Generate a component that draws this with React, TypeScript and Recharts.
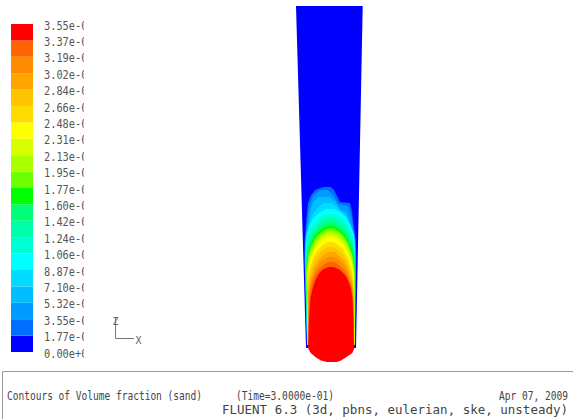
import React from "react";
import { ComposedChart, Area, XAxis, YAxis, BarChart, Bar } from "recharts";

// colour bands of the legend, bottom (0.00) to top (3.55e-01)
const bandColors = [
  "#0000ff", "#006eff", "#009bff", "#00beff", "#00dcff",
  "#00ffff", "#00ffd2", "#00ffaa", "#00ff78", "#00ff00",
  "#6eff00", "#aaff00", "#d7ff00", "#ffff00", "#ffdc00",
  "#ffc300", "#ffa500", "#ff8c00", "#ff6400", "#ff0000",
];

const levelValues = [
  0, 0.01775, 0.0355, 0.05325, 0.071, 0.08875, 0.1065, 0.12425, 0.142, 0.15975, 0.1775,
  0.19525, 0.213, 0.23075, 0.2485, 0.26625, 0.284, 0.30175, 0.3195, 0.33725, 0.355,
];

const levelLabels = [
  "0.00e+00", "1.77e-02", "3.55e-02", "5.32e-02", "7.10e-02", "8.87e-02", "1.06e-01",
  "1.24e-01", "1.42e-01", "1.60e-01", "1.77e-01", "1.95e-01", "2.13e-01", "2.31e-01",
  "2.48e-01", "2.66e-01", "2.84e-01", "3.02e-01", "3.19e-01", "3.37e-01", "3.55e-01",
];

// rows are [height above bed mm, left edge mm, right edge mm]
const column = [[356, -34, 32.7], [14, -24, 26]];

const contour01 = [[175, -7, 1], [172, -15, 4], [166, -19.5, 7], [160, -21.5, 10], [159, -22, 20], [150, -23, 22], [122, -25.3, 25.5], [100, -25.4, 26], [17, -23, 25]];
const contour02 = [[172, -10, -2], [166, -17, 4], [158, -20, 8], [156, -20.5, 18], [147, -22, 21], [122, -25, 25.3], [100, -25.2, 25.8], [17, -22.9, 24.9]];
const contour03 = [[165, -12, 0], [160, -17, 6], [152, -19.5, 10], [150, -20, 16], [140, -21.5, 20], [120, -24.5, 25], [100, -25, 25.6], [17, -22.8, 24.8]];
const contour04 = [[159, -6, 2], [155, -12, 7], [150, -16, 12], [145, -18.5, 17], [135, -21.5, 21], [120, -24, 24.5], [100, -24.8, 25.4], [17, -22.7, 24.7]];
const contour05 = [[153, -4, 4], [150, -10, 10], [145, -15.5, 15.5], [138, -20, 20], [128, -23.5, 24], [113, -24.6, 25.2], [17, -22.7, 24.7]];
const contour06 = [[148, -3.5, 4], [145, -9.5, 10], [140, -15, 15], [133, -19.5, 19.5], [123, -23, 23.5], [108, -24.4, 25], [17, -22.6, 24.6]];
const contour07 = [[144, -3, 4], [141, -9, 9.5], [136, -14.5, 15], [129, -19, 19], [119, -22.5, 23], [104, -24.2, 24.9], [17, -22.6, 24.6]];
const contour08 = [[140, -3, 3.5], [137, -8.5, 9], [132, -14, 14.5], [125, -18.5, 19], [115, -22, 22.5], [100, -24, 24.8], [17, -22.5, 24.6]];
const contour09 = [[136, -3, 3.5], [133, -8.5, 9], [128, -14, 14.5], [121, -18, 18.5], [111, -21.5, 22.5], [96, -23.8, 24.7], [17, -22.5, 24.5]];
const contour10 = [[133.5, -2.5, 3.5], [130.5, -8, 9], [125.5, -13.5, 14], [118.5, -17.5, 18.5], [108.5, -21.5, 22], [93.5, -23.6, 24.5], [17, -22.4, 24.5]];
const contour11 = [[131, -2.5, 3.5], [128, -8, 9], [123, -13.5, 14], [116, -17.5, 18], [106, -21, 22], [91, -23.4, 24.4], [17, -22.4, 24.5]];
const contour12 = [[128, -2.5, 3.5], [125, -8, 8.5], [120, -13, 14], [113, -17, 18], [103, -21, 21.5], [88, -23.2, 24.2], [17, -22.3, 24.4]];
const contour13 = [[125, -2.5, 3.5], [122, -7.5, 8.5], [117, -13, 13.5], [110, -17, 17.5], [100, -20.5, 21.5], [85, -23, 24], [17, -22.3, 24.4]];
const contour14 = [[120, -2.5, 3.5], [117, -7.5, 8.5], [112, -12.5, 13.5], [105, -16.5, 17.5], [95, -20, 21], [80, -22.8, 23.8], [17, -22.2, 24.3]];
const contour15 = [[115, -2.5, 3.5], [112, -7.5, 8.5], [107, -12.5, 13.5], [100, -16.5, 17.5], [90, -20, 21], [75, -22.5, 23.5], [17, -22.1, 24.3]];
const contour16 = [[110, -2, 4], [107, -7, 8.5], [102, -12, 13.5], [95, -16, 17.5], [85, -19.5, 21], [70, -22, 23.5], [17, -22, 24.2]];
const contour17 = [[105, -2, 4], [102, -7, 9], [97, -12, 14], [90, -16, 17.5], [80, -19.5, 21], [65, -21.5, 23.5], [17, -21.9, 24.1]];
const contour18 = [[100, -2, 4], [97, -7, 9], [92, -12, 14], [85, -16, 18], [75, -19, 21.5], [60, -21, 23.5], [17, -21.8, 24]];
const contour19 = [[95, -2, 4], [92, -8, 10], [87, -12, 15], [82, -14.5, 18], [75, -17, 20.5], [64, -19.5, 22.5], [42, -21, 23.5], [17, -21.7, 23.8], [14, -22, 24.5], [9, -19.3, 22.3], [4, -13.3, 15], [1.5, -9, 11], [0, -3.3, 6.7]];

const contours = [
  column, contour01, contour02, contour03, contour04, contour05, contour06, contour07, contour08, contour09,
  contour10, contour11, contour12, contour13, contour14, contour15, contour16, contour17, contour18, contour19,
];

const toRows = (rows: number[][]) => rows.map(([z, l, r]) => ({ z, span: [l, r] }));

const legendRow = [
  Object.fromEntries(bandColors.map((_, i) => [`b${i}`, levelValues[i + 1] - levelValues[i]])),
];

const FONT = "'DejaVu Sans Mono', monospace";

function LegendTick({ x, y, payload }: any) {
  const i = levelValues.indexOf(payload.value);
  return (
    <text x={x} y={y + 5.5} fontSize={12} fill="#555" fontFamily={FONT} textLength={49.6} lengthAdjust="spacingAndGlyphs">
      {levelLabels[i]}
    </text>
  );
}

export default function App() {
  return (
    <div style={{ position: "absolute", left: 0, top: 0, width: 573, height: 419, background: "#fff", fontFamily: FONT }}>
      <div style={{ position: "absolute", left: 0, top: 0 }}>
        <ComposedChart layout="vertical" width={573} height={366} margin={{ top: 6, right: 163, bottom: 4, left: 250 }}>
          <XAxis type="number" domain={[-80, 80]} allowDataOverflow hide />
          <YAxis type="number" dataKey="z" domain={[0, 356]} allowDataOverflow reversed hide />
          {contours.map((rows, i) => (
            <Area
              key={i}
              data={toRows(rows)}
              dataKey="span"
              type="linear"
              stroke="none"
              fill={bandColors[i]}
              fillOpacity={1}
              dot={false}
              activeDot={false}
              isAnimationActive={false}
            />
          ))}
        </ComposedChart>
      </div>

      <div style={{ position: "absolute", left: 0, top: 0, width: 84, height: 366, overflow: "hidden" }}>
        <BarChart width={100} height={360} data={legendRow} margin={{ top: 24, right: 0, bottom: 8, left: 11 }} barCategoryGap={0}>
          <XAxis hide />
          <YAxis
            orientation="right"
            type="number"
            domain={[0, 0.355]}
            allowDataOverflow
            ticks={levelValues}
            interval={0}
            width={67}
            axisLine={false}
            tickLine={false}
            tickSize={0}
            tickMargin={11}
            tick={<LegendTick />}
          />
          {bandColors.map((c, i) => (
            <Bar key={i} dataKey={`b${i}`} stackId="legend" fill={c} isAnimationActive={false} />
          ))}
        </BarChart>
      </div>

      <svg width={573} height={419} style={{ position: "absolute", left: 0, top: 0, pointerEvents: "none" }}>
        <line x1={115.5} y1={317} x2={115.5} y2={338.5} stroke="#777" />
        <line x1={115.5} y1={338.5} x2={134} y2={338.5} stroke="#777" />
        <text x={115.5} y={325} fontSize={10} textAnchor="middle" fill="#666" fontFamily={FONT}>Z</text>
        <text x={138.5} y={343.5} fontSize={10} textAnchor="middle" fill="#666" fontFamily={FONT}>X</text>

        <line x1={2.5} y1={371.5} x2={573} y2={371.5} stroke="#999" />
        <line x1={2.5} y1={371.5} x2={2.5} y2={419} stroke="#999" />
        <text x={7} y={400} fontSize={12} fill="#444" fontFamily={FONT} textLength={195} lengthAdjust="spacingAndGlyphs">
          Contours of Volume fraction (sand)
        </text>
        <text x={236} y={400} fontSize={12} fill="#444" fontFamily={FONT} textLength={98} lengthAdjust="spacingAndGlyphs">
          (Time=3.0000e-01)
        </text>
        <text x={499} y={400} fontSize={12} fill="#444" fontFamily={FONT} textLength={69} lengthAdjust="spacingAndGlyphs">
          Apr 07, 2009
        </text>
        <text x={222} y={413.5} fontSize={12} fill="#444" fontFamily={FONT} textLength={346} lengthAdjust="spacingAndGlyphs">
          FLUENT 6.3 (3d, pbns, eulerian, ske, unsteady)
        </text>
      </svg>
    </div>
  );
}
